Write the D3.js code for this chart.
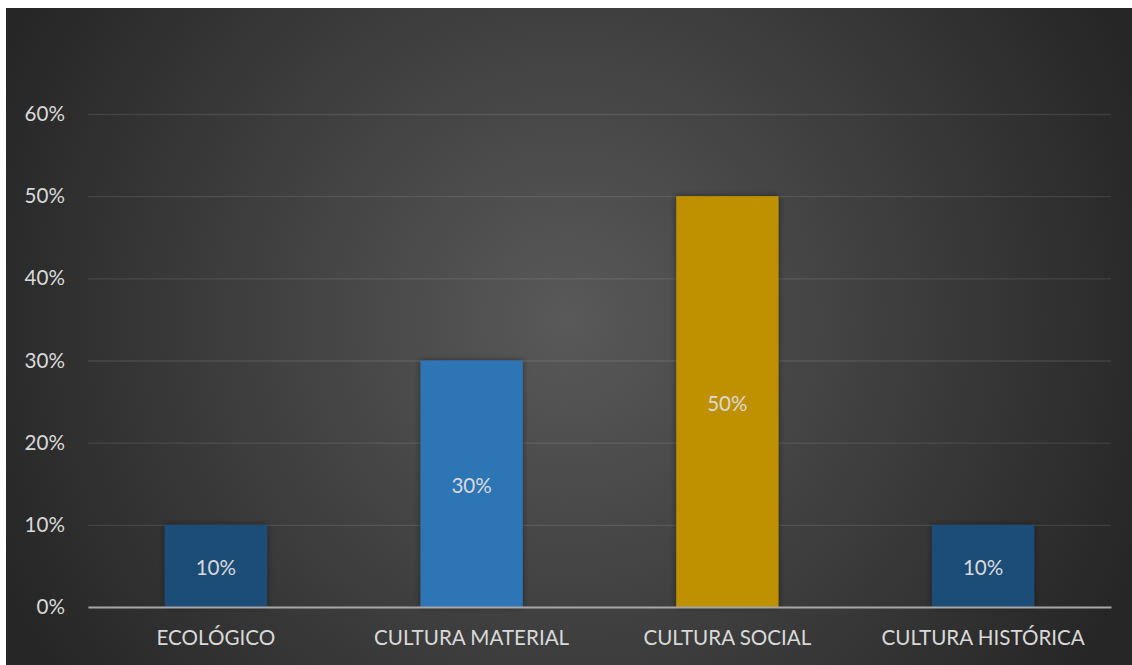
<!DOCTYPE html>
<html>
<head>
<meta charset="utf-8">
<script src="https://cdn.jsdelivr.net/npm/d3@7"></script>
<style>
  body { margin: 0; background: #ffffff; }
  svg { display: block; }
</style>
</head>
<body>
<script>
// chart data
var categories = ['ECOLÓGICO', 'CULTURA MATERIAL', 'CULTURA SOCIAL', 'CULTURA HISTÓRICA'];
var values = [0.10, 0.30, 0.50, 0.10];
var barColors = ['#1f4e79', '#2e75b6', '#bf9000', '#1f4e79'];
var yTicks = [0, 0.1, 0.2, 0.3, 0.4, 0.5, 0.6];

var width = 1132, height = 665;
var frame = { x: 6, y: 8 };
var plot = { left: 88, right: 1111, top: 114, bottom: 607 };
var fontFamily = 'Lato, "Open Sans", sans-serif';
var fontSize = 20.6;

var svg = d3.select('body').append('svg')
    .attr('width', width)
    .attr('height', height);

var defs = svg.append('defs');

var grad = defs.append('radialGradient')
    .attr('id', 'bg')
    .attr('gradientUnits', 'userSpaceOnUse')
    .attr('cx', 566).attr('cy', 320)
    .attr('r', 620);
grad.append('stop').attr('offset', '0%').attr('stop-color', '#595959');
grad.append('stop').attr('offset', '100%').attr('stop-color', '#262626');

var shadow = defs.append('filter')
    .attr('id', 'shadow')
    .attr('x', '-20%').attr('y', '-20%')
    .attr('width', '140%').attr('height', '140%');
shadow.append('feDropShadow')
    .attr('dx', 0).attr('dy', 0)
    .attr('stdDeviation', 3)
    .attr('flood-color', '#000')
    .attr('flood-opacity', 0.45);

// background
svg.append('rect')
    .attr('x', frame.x).attr('y', frame.y)
    .attr('width', width - frame.x)
    .attr('height', height - frame.y)
    .attr('fill', 'url(#bg)');

var x = d3.scaleBand()
    .domain(categories)
    .range([plot.left, plot.right])
    .paddingInner(0.6)
    .paddingOuter(0.3);

var y = d3.scaleLinear()
    .domain([0, 0.6])
    .range([plot.bottom, plot.top]);

var fmt = d3.format('.0%');

// gridlines + y labels
var yAxis = d3.axisLeft(y)
    .tickValues(yTicks)
    .tickFormat(fmt)
    .tickSize(-(plot.right - plot.left))
    .tickPadding(23);

var gy = svg.append('g')
    .attr('transform', 'translate(' + plot.left + ',0)')
    .call(yAxis);
gy.select('.domain').remove();
gy.selectAll('.tick line')
    .attr('stroke', '#ffffff')
    .attr('stroke-opacity', 0.1)
    .attr('stroke-width', 1.3);
gy.selectAll('.tick text')
    .attr('fill', '#d9d9d9')
    .attr('font-family', fontFamily)
    .attr('font-size', fontSize);

// bars
svg.append('g').selectAll('rect')
    .data(values)
    .enter()
        .append('rect')
        .attr('x', function(d, i) { return x(categories[i]); })
        .attr('y', function(d) { return y(d); })
        .attr('width', x.bandwidth())
        .attr('height', function(d) { return y(0) - y(d); })
        .attr('fill', function(d, i) { return barColors[i]; })
        .attr('filter', 'url(#shadow)');

// data labels
svg.append('g').selectAll('text')
    .data(values)
    .enter()
        .append('text')
        .attr('x', function(d, i) { return x(categories[i]) + x.bandwidth() / 2; })
        .attr('y', function(d) { return (y(d) + y(0)) / 2 + 2; })
        .attr('dy', '0.35em')
        .attr('text-anchor', 'middle')
        .attr('fill', '#d9d9d9')
        .attr('font-family', fontFamily)
        .attr('font-size', fontSize)
        .text(function(d) { return fmt(d); });

// x axis
var xAxis = d3.axisBottom(x).tickSize(0).tickPadding(23);
var gx = svg.append('g')
    .attr('transform', 'translate(0,' + y(0) + ')')
    .call(xAxis);
gx.select('.domain')
    .attr('stroke', '#a6a6a6')
    .attr('stroke-width', 2);
gx.selectAll('.tick text')
    .attr('fill', '#d9d9d9')
    .attr('font-family', fontFamily)
    .attr('font-size', fontSize);
</script>
</body>
</html>
